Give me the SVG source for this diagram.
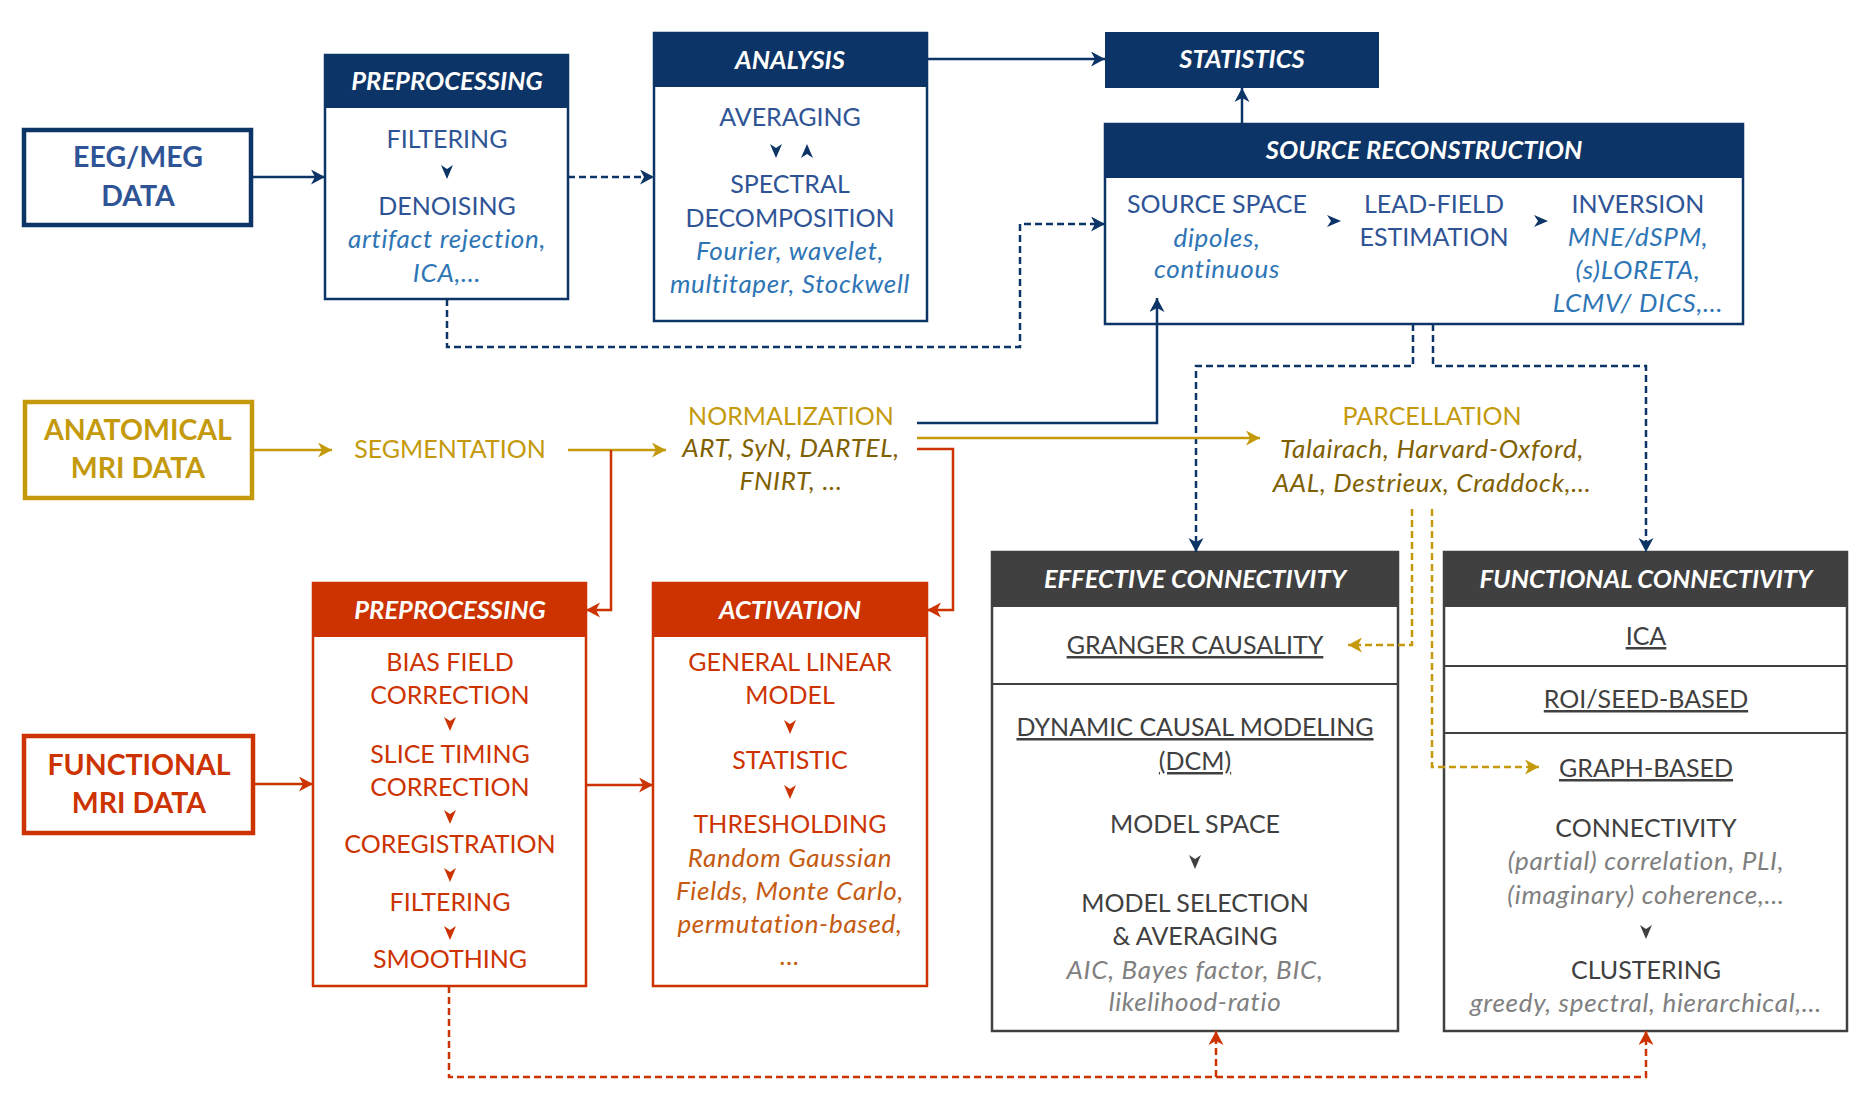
<svg xmlns="http://www.w3.org/2000/svg" xmlns:xlink="http://www.w3.org/1999/xlink" width="1866" height="1112" viewBox="0 0 1866 1112">
<style>
text{font-family:Lato,"Open Sans","Liberation Sans",sans-serif;font-size:25px;text-anchor:middle}
.ttl{font-weight:bold;font-style:italic;fill:#fff;font-size:25.5px}
.src{font-weight:bold;font-size:28.5px}
.it{font-style:italic;font-size:26px;letter-spacing:0.7px}
.u{text-decoration:underline}
.nvt{fill:#2f5496}.nvi{fill:#2e75b6}
.gdt{fill:#c49a0c}.gdi{fill:#7f6000}
.rdt{fill:#cc3300}.rdi{fill:#c55a11}
.gyt{fill:#404040}.gyi{fill:#808080}
.bx{fill:#fff;stroke-width:2.5}
.nv{stroke:#0d3466}.gd{stroke:#c49a0c}.rd{stroke:#cc3300}.gy{stroke:#404040}
.ln{fill:none;stroke-width:2.5}
.ds{stroke-dasharray:7 4}
</style>
<defs>
<path id="cd" d="M-6,0 L0,4 L6,0 L0,14 Z"/>
<marker id="aN" markerUnits="userSpaceOnUse" markerWidth="16" markerHeight="16" refX="14" refY="7.5" orient="auto" viewBox="0 0 16 16"><path d="M0,0 L14,7.5 L0,15 L4,7.5 Z" fill="#0d3466"/></marker>
<marker id="aG" markerUnits="userSpaceOnUse" markerWidth="16" markerHeight="16" refX="14" refY="7.5" orient="auto" viewBox="0 0 16 16"><path d="M0,0 L14,7.5 L0,15 L4,7.5 Z" fill="#c49a0c"/></marker>
<marker id="aR" markerUnits="userSpaceOnUse" markerWidth="16" markerHeight="16" refX="14" refY="7.5" orient="auto" viewBox="0 0 16 16"><path d="M0,0 L14,7.5 L0,15 L4,7.5 Z" fill="#cc3300"/></marker>
</defs>
<rect width="1866" height="1112" fill="#fff"/>

<g id="eeg-meg-data">
<rect x="24" y="130" width="227" height="95" fill="#fff" stroke="#0d3466" stroke-width="4.5"/>
<text class="src nvt" x="138" y="167">EEG/MEG</text>
<text class="src nvt" x="138" y="206">DATA</text>
</g>

<g id="eeg-preprocessing">
<rect class="bx nv" x="325" y="55" width="243" height="244"/>
<rect x="325" y="55" width="243" height="53" fill="#0d3466"/>
<text class="ttl" x="447" y="90">PREPROCESSING</text>
<text class="nvt" x="447" y="148">FILTERING</text>
<use xlink:href="#cd" x="447" y="165" fill="#0d3466"/>
<text class="nvt" x="447" y="215">DENOISING</text>
<text class="nvi it" x="447" y="248">artifact rejection,</text>
<text class="nvi it" x="447" y="282">ICA,…</text>
</g>

<g id="analysis">
<rect class="bx nv" x="654" y="33" width="273" height="288"/>
<rect x="654" y="33" width="273" height="54" fill="#0d3466"/>
<text class="ttl" x="790" y="69">ANALYSIS</text>
<text class="nvt" x="790" y="126">AVERAGING</text>
<use xlink:href="#cd" x="776" y="144" fill="#0d3466"/>
<use xlink:href="#cd" transform="translate(807,158) rotate(180)" fill="#0d3466"/>
<text class="nvt" x="790" y="193">SPECTRAL</text>
<text class="nvt" x="790" y="227">DECOMPOSITION</text>
<text class="nvi it" x="790" y="260">Fourier, wavelet,</text>
<text class="nvi it" x="790" y="293">multitaper, Stockwell</text>
</g>

<g id="statistics">
<rect x="1105" y="32" width="274" height="56" fill="#0d3466"/>
<text class="ttl" x="1242" y="68">STATISTICS</text>
</g>

<g id="source-reconstruction">
<rect class="bx nv" x="1105" y="124" width="638" height="200"/>
<rect x="1105" y="124" width="638" height="54" fill="#0d3466"/>
<text class="ttl" x="1424" y="159">SOURCE RECONSTRUCTION</text>
<text class="nvt" x="1217" y="213">SOURCE SPACE</text>
<text class="nvi it" x="1217" y="247">dipoles,</text>
<text class="nvi it" x="1217" y="278">continuous</text>
<use xlink:href="#cd" transform="translate(1327,221) rotate(-90)" fill="#0d3466"/>
<text class="nvt" x="1434" y="213">LEAD-FIELD</text>
<text class="nvt" x="1434" y="246">ESTIMATION</text>
<use xlink:href="#cd" transform="translate(1534,221) rotate(-90)" fill="#0d3466"/>
<text class="nvt" x="1638" y="213">INVERSION</text>
<text class="nvi it" x="1638" y="246">MNE/dSPM,</text>
<text class="nvi it" x="1638" y="279">(s)LORETA,</text>
<text class="nvi it" x="1638" y="312">LCMV/ DICS,…</text>
</g>

<g id="anatomical-mri-data">
<rect x="25" y="402" width="227" height="96" fill="#fff" stroke="#c49a0c" stroke-width="4.5"/>
<text class="src gdt" x="138" y="440">ANATOMICAL</text>
<text class="src gdt" x="138" y="478">MRI DATA</text>
</g>

<g id="segmentation">
<text class="gdt" x="450" y="458">SEGMENTATION</text>
</g>

<g id="normalization">
<text class="gdt" x="791" y="425">NORMALIZATION</text>
<text class="gdi it" x="791" y="457">ART, SyN, DARTEL,</text>
<text class="gdi it" x="791" y="490">FNIRT, …</text>
</g>

<g id="parcellation">
<text class="gdt" x="1432" y="425">PARCELLATION</text>
<text class="gdi it" x="1432" y="458">Talairach, Harvard-Oxford,</text>
<text class="gdi it" x="1432" y="492">AAL, Destrieux, Craddock,…</text>
</g>

<g id="functional-mri-data">
<rect x="24" y="736" width="229" height="97" fill="#fff" stroke="#cc3300" stroke-width="4.5"/>
<text class="src rdt" x="139" y="775">FUNCTIONAL</text>
<text class="src rdt" x="139" y="813">MRI DATA</text>
</g>

<g id="fmri-preprocessing">
<rect class="bx rd" x="313" y="583" width="273" height="403"/>
<rect x="313" y="583" width="273" height="54" fill="#cc3300"/>
<text class="ttl" x="450" y="619">PREPROCESSING</text>
<text class="rdt" x="450" y="671">BIAS FIELD</text>
<text class="rdt" x="450" y="704">CORRECTION</text>
<use xlink:href="#cd" x="450" y="717" fill="#cc3300"/>
<text class="rdt" x="450" y="763">SLICE TIMING</text>
<text class="rdt" x="450" y="796">CORRECTION</text>
<use xlink:href="#cd" x="450" y="810" fill="#cc3300"/>
<text class="rdt" x="450" y="853">COREGISTRATION</text>
<use xlink:href="#cd" x="450" y="868" fill="#cc3300"/>
<text class="rdt" x="450" y="911">FILTERING</text>
<use xlink:href="#cd" x="450" y="926" fill="#cc3300"/>
<text class="rdt" x="450" y="968">SMOOTHING</text>
</g>

<g id="activation">
<rect class="bx rd" x="653" y="583" width="274" height="403"/>
<rect x="653" y="583" width="274" height="54" fill="#cc3300"/>
<text class="ttl" x="790" y="619">ACTIVATION</text>
<text class="rdt" x="790" y="671">GENERAL LINEAR</text>
<text class="rdt" x="790" y="704">MODEL</text>
<use xlink:href="#cd" x="790" y="720" fill="#cc3300"/>
<text class="rdt" x="790" y="769">STATISTIC</text>
<use xlink:href="#cd" x="790" y="785" fill="#cc3300"/>
<text class="rdt" x="790" y="833">THRESHOLDING</text>
<text class="rdi it" x="790" y="867">Random Gaussian</text>
<text class="rdi it" x="790" y="900">Fields, Monte Carlo,</text>
<text class="rdi it" x="790" y="933">permutation-based,</text>
<text class="rdi it" x="790" y="965">…</text>
</g>

<g id="effective-connectivity">
<rect class="bx gy" x="992" y="552" width="406" height="479"/>
<rect x="992" y="552" width="406" height="55" fill="#404040"/>
<text class="ttl" x="1195" y="588">EFFECTIVE CONNECTIVITY</text>
<text class="gyt u" x="1195" y="654">GRANGER CAUSALITY</text>
<line x1="992" y1="684" x2="1398" y2="684" stroke="#404040" stroke-width="2"/>
<text class="gyt u" x="1195" y="736">DYNAMIC CAUSAL MODELING</text>
<text class="gyt u" x="1195" y="770">(DCM)</text>
<text class="gyt" x="1195" y="833">MODEL SPACE</text>
<use xlink:href="#cd" x="1195" y="855" fill="#404040"/>
<text class="gyt" x="1195" y="912">MODEL SELECTION</text>
<text class="gyt" x="1195" y="945">&amp; AVERAGING</text>
<text class="gyi it" x="1195" y="979">AIC, Bayes factor, BIC,</text>
<text class="gyi it" x="1195" y="1011">likelihood-ratio</text>
</g>

<g id="functional-connectivity">
<rect class="bx gy" x="1444" y="552" width="403" height="479"/>
<rect x="1444" y="552" width="403" height="55" fill="#404040"/>
<text class="ttl" x="1646" y="588">FUNCTIONAL CONNECTIVITY</text>
<text class="gyt u" x="1646" y="645">ICA</text>
<line x1="1444" y1="666" x2="1847" y2="666" stroke="#404040" stroke-width="2"/>
<text class="gyt u" x="1646" y="708">ROI/SEED-BASED</text>
<line x1="1444" y1="733" x2="1847" y2="733" stroke="#404040" stroke-width="2"/>
<text class="gyt u" x="1646" y="777">GRAPH-BASED</text>
<text class="gyt" x="1646" y="837">CONNECTIVITY</text>
<text class="gyi it" x="1646" y="870">(partial) correlation, PLI,</text>
<text class="gyi it" x="1646" y="904">(imaginary) coherence,…</text>
<use xlink:href="#cd" x="1646" y="925" fill="#404040"/>
<text class="gyt" x="1646" y="979">CLUSTERING</text>
<text class="gyi it" x="1646" y="1012">greedy, spectral, hierarchical,…</text>
</g>

<g id="connectors">
<path class="ln nv" d="M251,177 H325" marker-end="url(#aN)"/>
<path class="ln nv ds" d="M568,177 H654" marker-end="url(#aN)"/>
<path class="ln nv" d="M927,59 H1105" marker-end="url(#aN)"/>
<path class="ln nv" d="M1242,124 V88" marker-end="url(#aN)"/>
<path class="ln nv ds" d="M447,299 V347 H1020 V224 H1105" marker-end="url(#aN)"/>
<path class="ln nv" d="M917,423 H1157 V298" marker-end="url(#aN)"/>
<path class="ln nv ds" d="M1413,324 V366 H1196 V552" marker-end="url(#aN)"/>
<path class="ln nv ds" d="M1433,324 V366 H1646 V552" marker-end="url(#aN)"/>
<path class="ln gd" d="M252,450 H332" marker-end="url(#aG)"/>
<path class="ln gd" d="M568,450 H666" marker-end="url(#aG)"/>
<path class="ln rd" d="M611,450 V610 H586" marker-end="url(#aR)"/>
<path class="ln gd" d="M917,438 H1260" marker-end="url(#aG)"/>
<path class="ln rd" d="M917,449 H953 V610 H927" marker-end="url(#aR)"/>
<path class="ln gd ds" d="M1412,509 V645 H1348" marker-end="url(#aG)"/>
<path class="ln gd ds" d="M1432,509 V767 H1539" marker-end="url(#aG)"/>
<path class="ln rd" d="M253,784 H313" marker-end="url(#aR)"/>
<path class="ln rd" d="M586,785 H653" marker-end="url(#aR)"/>
<path class="ln rd ds" d="M449,986 V1077 H1646 V1031" marker-end="url(#aR)"/>
<path class="ln rd ds" d="M1216,1077 V1031" marker-end="url(#aR)"/>
</g>
</svg>
